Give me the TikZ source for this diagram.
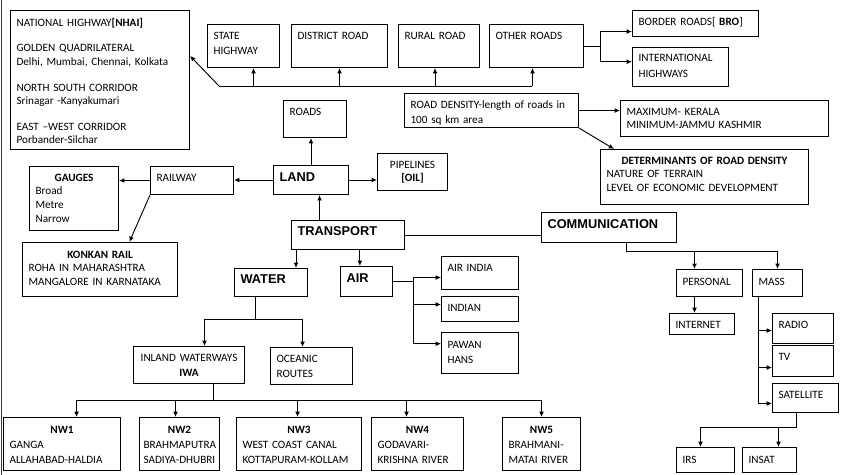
\documentclass[tikz,border=0pt]{standalone}
\usepackage{fontspec}
\setmainfont{Carlito}
\newfontfamily\headfont{Liberation Sans}
\usetikzlibrary{arrows.meta}
\newcommand{\ctitle}[1]{\hspace*{\fill}\textbf{#1}\hspace*{\fill}\mbox{}}

\begin{document}
\begin{tikzpicture}[x=0.75pt,y=0.75pt,yscale=-1,xscale=1,
  box/.style={draw, line width=0.8pt, anchor=north west, inner xsep=4.5pt, inner ysep=0pt, align=left, font=\fontsize{8.4}{10.2}\selectfont},
  head/.style={box, font=\headfont\bfseries\fontsize{9.6}{11}\selectfont},
  arr/.style={line width=0.7pt, -{Latex[length=4pt,width=3.6pt]}},
  link/.style={line width=0.7pt}]
\useasboundingbox (0,0) rectangle (844,475);

%Straight Lines: page edge
\draw [line width=0.75pt, color={rgb, 255:red, 192; green, 0; blue, 0 }] (1,0) -- (1,475) ;

%Shape: Rectangle -- roads
\node[box, text width=125.25pt, text height=11.8pt, text depth=92.5pt] (nhai) at (10,10) {NATIONAL HIGHWAY\textbf{[NHAI]}\\[9pt]GOLDEN QUADRILATERAL\\Delhi, Mumbai, Chennai, Kolkata\\[9pt]NORTH SOUTH CORRIDOR\\Srinagar -Kanyakumari\\[9pt]EAST –WEST CORRIDOR\\Porbander-Silchar};
\node[box, text width=45pt, text height=11pt, text depth=21.2pt] (state) at (207,24) {STATE\\[1.5pt]HIGHWAY};
\node[box, text width=63pt, text height=11pt, text depth=21.2pt] (district) at (291,24) {DISTRICT ROAD};
\node[box, text width=51.75pt, text height=11pt, text depth=21.2pt] (rural) at (398,24) {RURAL ROAD};
\node[box, text width=61.5pt, text height=11pt, text depth=21.2pt] (other) at (489,24) {OTHER ROADS};
\node[box, text width=85.5pt, text height=11pt, text depth=8.5pt] (bro) at (632,10) {BORDER ROADS[ \textbf{BRO}]};
\node[box, text width=63pt, text height=10.8pt, text depth=18.45pt] (intl) at (632,47) {INTERNATIONAL\\[1.5pt]HIGHWAYS};
\node[box, text width=38.25pt, text height=11.55pt, text depth=16.2pt] (roads) at (283,100) {ROADS};
\node[box, text width=121.5pt, text height=11pt, text depth=14.5pt] (density) at (404,93) {ROAD DENSITY-length of roads in\\[1pt]100 sq km area};
\node[box, text width=147pt, text height=11pt, text depth=16pt] (maxmin) at (620,100) {MAXIMUM- KERALA\\MINIMUM-JAMMU KASHMIR};
\node[box, text width=147pt, text height=11pt, text depth=30.2pt] (determ) at (600,149) {\ctitle{DETERMINANTS OF ROAD DENSITY}\\NATURE OF TERRAIN\\LEVEL OF ECONOMIC DEVELOPMENT};

%Shape: Rectangle -- land
\node[box, align=center, text width=43.5pt, text height=11pt, text depth=16.7pt] (pipe) at (377,153) {PIPELINES\\\textbf{[OIL]}};
\node[head, text width=47.25pt, text height=12pt, text depth=9.75pt] (land) at (273,165) {LAND};
\node[box, text width=53.25pt, text height=11pt, text depth=10pt] (railway) at (150,166) {RAILWAY};
\node[box, text width=57.75pt, text height=11pt, text depth=37pt] (gauges) at (29,166) {\ctitle{GAUGES}\\Broad\\Metre\\Narrow};
\node[box, text width=107.25pt, text height=11.8pt, text depth=28.7pt] (konkan) at (22,242) {\ctitle{KONKAN RAIL}\\ROHA IN MAHARASHTRA\\MANGALORE IN KARNATAKA};

%Shape: Rectangle -- transport
\node[head, text width=75.75pt, text height=10.9pt, text depth=10.9pt] (transport) at (291,220) {TRANSPORT};
\node[head, text width=45.75pt, text height=10.9pt, text depth=10.1pt] (water) at (234,268) {WATER};
\node[head, text width=30pt, text height=11.6pt, text depth=10.9pt] (air) at (340,266) {AIR};
\node[head, text width=92.25pt, text height=11.6pt, text depth=10.9pt] (comm) at (541,212) {COMMUNICATION};

%Shape: Rectangle -- air
\node[box, text width=48.75pt, text height=11pt, text depth=13.7pt] (airindia) at (441,256) {AIR INDIA};
\node[box, text width=48.75pt, text height=11pt, text depth=7.7pt] (indian) at (441,296) {INDIAN};
\node[box, text width=48.75pt, text height=11.8pt, text depth=19pt] (pawan) at (441,332) {PAWAN\\[1.5pt]HANS};

%Shape: Rectangle -- communication
\node[box, text width=40.5pt, text height=11.8pt, text depth=8.5pt] (personal) at (676,269) {PERSONAL};
\node[box, text width=28.5pt, text height=11.8pt, text depth=8.5pt] (mass) at (752,269) {MASS};
\node[box, text width=39.75pt, text height=11pt, text depth=4.7pt] (internet) at (669,313) {INTERNET};
\node[box, text width=36.75pt, text height=11pt, text depth=11.5pt] (radio) at (772,313) {RADIO};
\node[box, text width=36.75pt, text height=11pt, text depth=12.2pt] (tv) at (772,345) {TV};
\node[box, text width=40.5pt, text height=11pt, text depth=10.7pt] (sat) at (772,383) {SATELLITE};
\node[box, text width=34.5pt, text height=11.8pt, text depth=7pt] (irs) at (676,447) {IRS};
\node[box, text width=31.5pt, text height=11.8pt, text depth=7pt] (insat) at (742,447) {INSAT};

%Shape: Rectangle -- water
\node[box, align=center, text width=74.25pt, text height=11pt, text depth=16.7pt] (inland) at (133,346) {INLAND WATERWAYS\\[1pt]\textbf{IWA}};
\node[box, text width=52.5pt, text height=11pt, text depth=16.7pt] (oceanic) at (270,347) {OCEANIC\\[1pt]ROUTES};
\node[box, text width=78.75pt, text height=11.8pt, text depth=28pt] (nw1) at (3,417) {\ctitle{NW1}\\[1pt]GANGA\\[1pt]ALLAHABAD-HALDIA};
\node[box, inner xsep=3pt, text width=54pt, text height=11.8pt, text depth=28pt] (nw2) at (139,417) {\ctitle{NW2}\\[1pt]BRAHMAPUTRA\\[1pt]SADIYA-DHUBRI};
\node[box, text width=84.75pt, text height=11.8pt, text depth=28pt] (nw3) at (236,417) {\ctitle{NW3}\\[1pt]WEST COAST CANAL\\[1pt]KOTTAPURAM-KOLLAM};
\node[box, text width=60pt, text height=11.8pt, text depth=28pt] (nw4) at (371,417) {\ctitle{NW4}\\[1pt]GODAVARI-\\[1pt]KRISHNA RIVER};
\node[box, text width=49.5pt, text height=11.8pt, text depth=28pt] (nw5) at (502,417) {\ctitle{NW5}\\[1pt]BRAHMANI-\\[1pt]MATAI RIVER};

%Straight Lines -- road bus
\coordinate (busL) at (219,86);
\coordinate (busR) at (532,86);
\draw[link] (busL) -- (busR);
\draw[arr] (busL) -- (nhai.15);
\draw[arr] ([xshift=7.5pt]state.south |- busL) -- ([xshift=7.5pt]state.south);
\draw[arr] (district.south |- busL) -- (district.south);
\draw[arr] ([xshift=-3pt]rural.south |- busL) -- ([xshift=-3pt]rural.south);
\draw[arr] ([xshift=-3pt]other.south |- busL) -- ([xshift=-3pt]other.south);
\draw[arr] (other.east) -- ++(16,0) |- ([yshift=6pt]bro.west);
\draw[arr] (other.east) -- ++(16,0) |- ([yshift=-4pt]intl.west);
\draw[arr] (density.east) -- (maxmin.west |- density.east);
\draw[arr] (density.south east) -- ([xshift=10.5pt]determ.north west);

%Straight Lines -- land
\draw[arr] (land.north) -- (land.north |- roads.south);
\draw[arr] (land.east) -- (pipe.west |- land.east);
\draw[arr] (land.west) -- (railway.east |- land.west);
\draw[arr] (railway.west) -- (gauges.east |- railway.west);
\draw[arr] (railway.south west) -- ([xshift=22pt]konkan.north);

%Straight Lines -- transport
\draw[arr] ([xshift=6.4pt]land.south |- transport.north) -- ([xshift=6.4pt]land.south);
\draw[arr] ([xshift=3.75pt]transport.south west) -- ([xshift=3.75pt]transport.south west |- water.north);
\draw[arr] ([xshift=-5pt]air.north |- transport.south) -- ([xshift=-5pt]air.north);
\draw[link] (transport.east) -- (comm.west |- transport.east);

%Straight Lines -- air
\draw[arr] (air.east) -- ++(20,0) |- ([yshift=3.4pt]airindia.west);
\draw[arr] (air.east) -- ++(20,0) |- ([yshift=-3.4pt]indian.west);
\draw[arr] (air.east) -- ++(20,0) |- ([yshift=-7pt]pawan.west);

%Straight Lines -- communication
\draw[arr] ([xshift=13pt]comm.south) -- ++(0,8) -| ([xshift=-11.25pt]personal.north);
\draw[arr] ([xshift=13pt]comm.south) -- ++(0,8) -| (mass.north);
\draw[arr] ([xshift=-11.25pt]personal.south) -- ([xshift=-11.25pt]personal.south |- internet.north);
\draw[arr] ([xshift=4.5pt]mass.south west) |- ([yshift=1.5pt]radio.west);
\draw[arr] ([xshift=4.5pt]mass.south west) |- ([yshift=4.9pt]tv.west);
\draw[arr] ([xshift=4.5pt]mass.south west) |- ([yshift=4.1pt]sat.west);
\draw[arr] ([xshift=-6.75pt]sat.south) -- ++(0,14) -| ([xshift=-3.75pt]irs.north);
\draw[arr] ([xshift=-6.75pt]sat.south) -- ++(0,14) -| ([xshift=6.75pt]insat.north);

%Straight Lines -- water
\draw[arr] ([xshift=-11.6pt]water.south) -- ++(0,22) -| ([xshift=11.6pt]inland.north);
\draw[arr] ([xshift=-11.6pt]water.south) -- ++(0,22) -| ([xshift=-6.75pt]oceanic.north);
\draw[arr] ([xshift=18.4pt]inland.south) -- ++(0,16) -| ([xshift=10.9pt]nw1.north);
\draw[arr] ([xshift=18.4pt]inland.south) -- ++(0,16) -| ([xshift=-3pt]nw2.north);
\draw[arr] ([xshift=18.4pt]inland.south) -- ++(0,16) -| ([xshift=-1.1pt]nw3.north);
\draw[arr] ([xshift=18.4pt]inland.south) -- ++(0,16) -| ([xshift=-8.25pt]nw4.north);
\draw[arr] ([xshift=18.4pt]inland.south) -- ++(0,16) -| (nw5.north);

\end{tikzpicture}
\end{document}
